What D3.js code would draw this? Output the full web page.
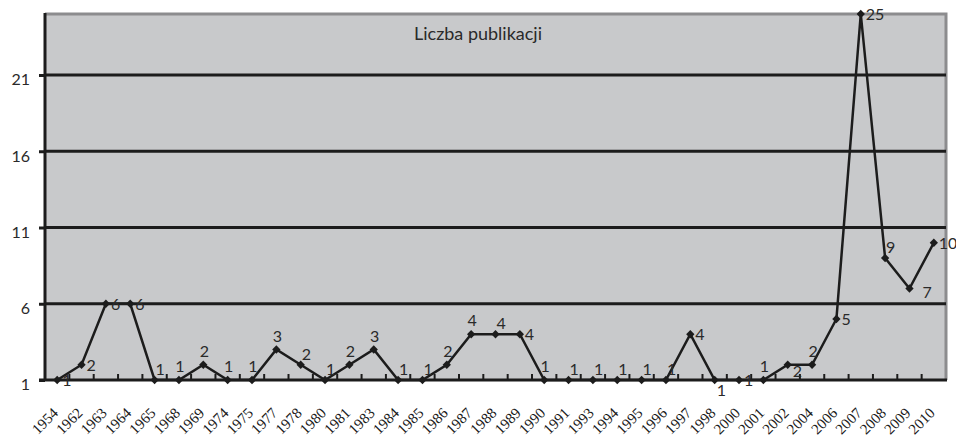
<!DOCTYPE html>
<html>
<head>
<meta charset="utf-8">
<script src="https://cdn.jsdelivr.net/npm/d3@7"></script>
<style>
  body { margin: 0; background: #fff; overflow: hidden; }
  svg { display: block; }
</style>
</head>
<body>
<svg id="vis"></svg>
<script>
// categories (years) and number of publications
var years = ["1954", "1962", "1963", "1964", "1965", "1968", "1969", "1974", "1975", "1977",
  "1978", "1980", "1981", "1983", "1984", "1985", "1986", "1987", "1988", "1989",
  "1990", "1991", "1993", "1994", "1995", "1996", "1997", "1998", "2000", "2001",
  "2002", "2004", "2006", "2007", "2008", "2009", "2010"];

var counts = [1, 2, 6, 6, 1, 1, 2, 1, 1, 3,
  2, 1, 2, 3, 1, 1, 2, 4, 4, 4,
  1, 1, 1, 1, 1, 1, 4, 1, 1, 1,
  2, 2, 5, 25, 9, 7, 10];

var yTicks = [1, 6, 11, 16, 21];

// where each value label sits relative to its point (r = right, a = above, ar = above right, b = below, br = below right)
var labelPlace = ["r", "r", "r", "r", "ar", "a", "a", "a", "a", "a",
  "ar", "ar", "a", "a", "ar", "ar", "a", "a", "ar", "r",
  "a", "ar", "ar", "ar", "ar", "ar", "r", "b", "r", "a",
  "br", "a", "r", "r", "ar", "r2", "r"];

(function() {
  var width = 956,
    height = 438;

  var left = 45, right = 946, top = 14, bottom = 380;

  var chart = d3.select("#vis")
    .attr("width", width)
    .attr("height", height);

  var data = years.map(function(y, i) {
    return { year: y, value: counts[i], place: labelPlace[i] };
  });

  var x = d3.scaleBand().domain(years).range([left, right]).padding(0);
  var y = d3.scaleLinear().domain([1, 25]).range([bottom, top]);

  function cx(d) { return x(d.year) + x.bandwidth() / 2; }
  function cy(d) { return y(d.value); }

  // plot background
  chart.append("rect")
    .attr("x", left).attr("y", top)
    .attr("width", right - left).attr("height", bottom - top)
    .attr("fill", "#c8c9cb");

  // top and right border
  chart.append("path")
    .attr("d", "M" + left + "," + top + "H" + right + "V" + bottom)
    .attr("fill", "none")
    .attr("stroke", "#8c8c8e")
    .attr("stroke-width", 3);

  // horizontal grid lines
  chart.append("g")
    .selectAll("line")
    .data(yTicks.slice(1))
    .enter()
    .append("line")
    .attr("x1", left).attr("x2", right)
    .attr("y1", function(d) { return y(d); })
    .attr("y2", function(d) { return y(d); })
    .attr("stroke", "#1c1c1c")
    .attr("stroke-width", 3);

  // y axis
  var yAxis = chart.append("g")
    .attr("transform", "translate(" + left + ",0)")
    .call(d3.axisLeft(y).tickValues(yTicks).tickSize(6).tickPadding(9).tickSizeOuter(0));
  yAxis.select(".domain").attr("stroke", "#1c1c1c").attr("stroke-width", 3)
    .attr("d", "M0," + (top - 1) + "V" + (bottom + 1));
  yAxis.selectAll(".tick line").attr("stroke", "#1c1c1c").attr("stroke-width", 3);
  yAxis.selectAll(".tick text")
    .attr("dy", "0.62em")
    .attr("fill", "#2a2a2a")
    .style("font-family", "Lato, 'Open Sans', sans-serif")
    .style("font-size", "16px");

  // x axis: small ticks between categories, pointing up
  var xAxis = chart.append("g")
    .attr("transform", "translate(0," + bottom + ")");
  xAxis.append("line")
    .attr("x1", left - 6).attr("x2", right + 1)
    .attr("stroke", "#1c1c1c").attr("stroke-width", 3);
  xAxis.selectAll(".xt")
    .data(years.slice(1))
    .enter()
    .append("line")
    .attr("class", "xt")
    .attr("x1", function(d) { return x(d); })
    .attr("x2", function(d) { return x(d); })
    .attr("y1", 0).attr("y2", -6)
    .attr("stroke", "#1c1c1c").attr("stroke-width", 2);

  xAxis.selectAll(".xl")
    .data(years)
    .enter()
    .append("text")
    .attr("class", "xl")
    .attr("text-anchor", "end")
    .attr("transform", function(d) {
      return "translate(" + (x(d) + x.bandwidth() / 2 + 2) + ",34) rotate(-45)";
    })
    .attr("fill", "#1a1a1a")
    .style("font-family", "'Liberation Serif', 'Times New Roman', serif")
    .style("font-size", "15px")
    .text(function(d) { return d; });

  // title
  chart.append("text")
    .attr("x", 478).attr("y", 40)
    .attr("text-anchor", "middle")
    .attr("fill", "#2a2a2a")
    .style("font-family", "Lato, 'Open Sans', sans-serif")
    .style("font-size", "18px")
    .text("Liczba publikacji");

  // the line
  var line = d3.line().x(cx).y(cy);

  chart.append("path")
    .datum(data)
    .attr("d", line)
    .attr("fill", "none")
    .attr("stroke", "#1c1c1c")
    .attr("stroke-width", 2.5)
    .attr("stroke-linejoin", "miter");

  // diamond markers
  chart.append("g")
    .selectAll("path")
    .data(data)
    .enter()
    .append("path")
    .attr("d", d3.symbol().type(d3.symbolDiamond2).size(44))
    .attr("transform", function(d) { return "translate(" + cx(d) + "," + cy(d) + ")"; })
    .attr("fill", "#1c1c1c");

  // value labels
  var offsets = {
    r: { dx: 5, dy: 6, anchor: "start" },
    r2: { dx: 13, dy: 9, anchor: "start" },
    a: { dx: 1, dy: -8, anchor: "middle" },
    ar: { dx: 1, dy: -5, anchor: "start" },
    b: { dx: 2, dy: 16, anchor: "start" },
    br: { dx: 5, dy: 12, anchor: "start" }
  };

  chart.append("g")
    .selectAll("text")
    .data(data)
    .enter()
    .append("text")
    .attr("x", function(d) { return cx(d) + offsets[d.place].dx; })
    .attr("y", function(d) { return cy(d) + offsets[d.place].dy; })
    .attr("text-anchor", function(d) { return offsets[d.place].anchor; })
    .attr("fill", "#2a2a2a")
    .style("font-family", "Lato, 'Open Sans', sans-serif")
    .style("font-size", "16px")
    .text(function(d) { return d.value; });

}());
</script>
</body>
</html>
